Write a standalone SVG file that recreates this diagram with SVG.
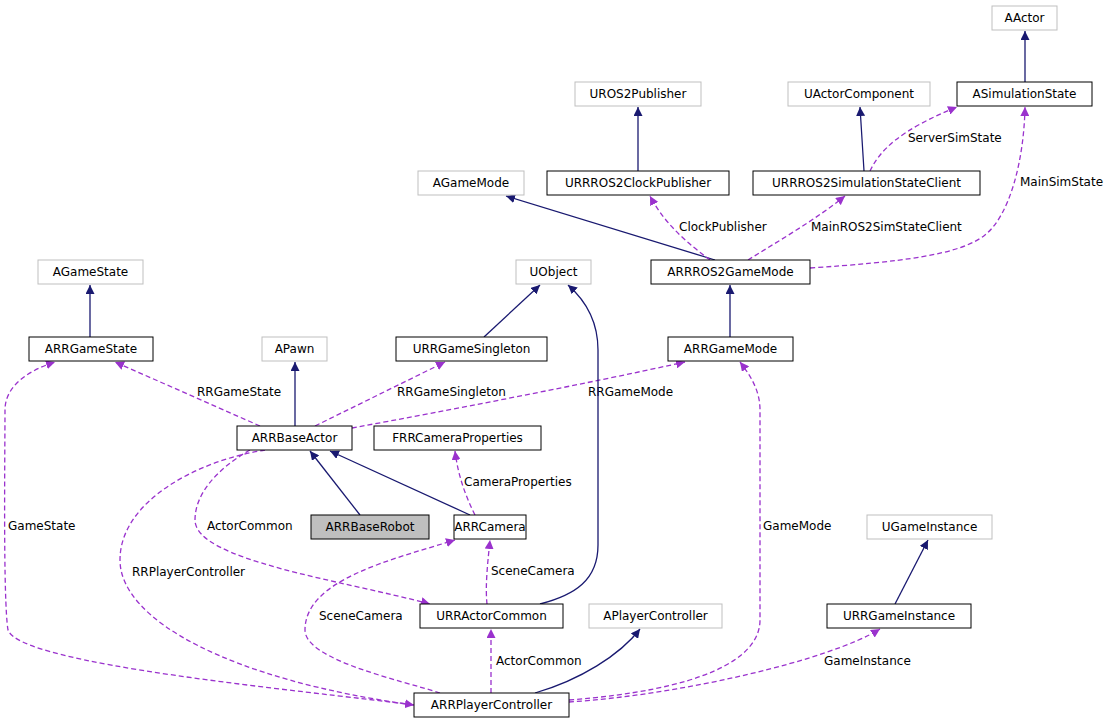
<svg xmlns="http://www.w3.org/2000/svg" width="1117" height="725" viewBox="0 0 1117 725">
<defs>
<style>
.n rect{fill:#fff;stroke:#000;stroke-width:1}
.g rect{stroke:#bfbfbf}
.n text{font-family:"DejaVu Sans",sans-serif;font-size:12px;text-anchor:middle}
.s{fill:none;stroke:#191970;stroke-width:1.3;marker-end:url(#as)}
.d{fill:none;stroke:#9a32cd;stroke-width:1.3;stroke-dasharray:5,3;marker-end:url(#ad)}
.l{font-family:"DejaVu Sans",sans-serif;font-size:12px}
</style>
<marker id="as" viewBox="0 0 10 10" refX="10" refY="5" markerWidth="9" markerHeight="9" markerUnits="userSpaceOnUse" orient="auto"><path d="M0,0L10,5L0,10z" fill="#191970"/></marker>
<marker id="ad" viewBox="0 0 10 10" refX="10" refY="5" markerWidth="9" markerHeight="9" markerUnits="userSpaceOnUse" orient="auto"><path d="M0,0L10,5L0,10z" fill="#9a32cd"/></marker>
</defs>
<rect width="1117" height="725" fill="#fff"/>
<g id="edges">
<path class="s" d="M1025,82V31"/>
<path class="s" d="M638,171V107"/>
<path class="s" d="M864,171L860,107"/>
<path class="d" d="M870,171C880,150 900,130 957,107"/>
<text class="l" x="908" y="142">ServerSimState</text>
<path class="s" d="M715,260L506,196"/>
<path class="d" d="M710,260C690,245 665,225 650,196"/>
<text class="l" x="679" y="231">ClockPublisher</text>
<path class="d" d="M748,260C780,240 815,220 845,196"/>
<text class="l" x="811" y="231">MainROS2SimStateClient</text>
<path class="d" d="M810,268C900,262 960,255 985,235C1010,215 1024,160 1025,107"/>
<text class="l" x="1020" y="186">MainSimState</text>
<path class="s" d="M90,337V285"/>
<path class="s" d="M484,337L540,285"/>
<path class="s" d="M730,337V285"/>
<path class="s" d="M295,426V362"/>
<path class="d" d="M260,426L115,362"/>
<text class="l" x="197" y="396">RRGameState</text>
<path class="d" d="M315,426L445,362"/>
<text class="l" x="397" y="396">RRGameSingleton</text>
<path class="d" d="M352,428C450,410 580,385 685,362"/>
<text class="l" x="588" y="396">RRGameMode</text>
<path class="s" d="M360,515L310,451"/>
<path class="s" d="M470,515L330,451"/>
<path class="d" d="M475,515C465,495 458,475 455,451"/>
<text class="l" x="464" y="486">CameraProperties</text>
<path class="s" d="M540,604C575,595 598,580 598,545V350C598,320 585,300 568,285"/>
<path class="d" d="M487,604C485,585 488,560 490,540"/>
<text class="l" x="491" y="575">SceneCamera</text>
<path class="d" d="M250,450C215,470 195,495 195,520C195,560 340,580 430,604"/>
<text class="l" x="207" y="530">ActorCommon</text>
<path class="d" d="M414,705C300,690 20,665 8,630C3,600 5,450 5,410C5,385 30,370 55,362"/>
<text class="l" x="8" y="530">GameState</text>
<path class="d" d="M265,450C200,460 120,500 120,560C120,620 230,680 414,705"/>
<text class="l" x="132" y="576">RRPlayerController</text>
<path class="d" d="M440,693C400,680 305,660 305,630C305,580 390,560 455,540"/>
<text class="l" x="319" y="620">SceneCamera</text>
<path class="d" d="M491,693V629"/>
<text class="l" x="496" y="665">ActorCommon</text>
<path class="s" d="M535,693C580,680 620,655 640,629"/>
<path class="d" d="M569,700C700,690 760,660 760,620V410C760,390 750,375 740,362"/>
<text class="l" x="763" y="530">GameMode</text>
<path class="d" d="M569,702C680,695 830,660 880,629"/>
<text class="l" x="824" y="665">GameInstance</text>
<path class="s" d="M895,604L928,540"/>
</g>
<g id="AActor" class="n g"><rect x="992" y="6" width="65" height="24"/><text x="1024.5" y="22">AActor</text></g>
<g id="ASimulationState" class="n"><rect x="957" y="82" width="135" height="24"/><text x="1024.5" y="98">ASimulationState</text></g>
<g id="UROS2Publisher" class="n g"><rect x="575" y="82" width="126" height="24"/><text x="638" y="98">UROS2Publisher</text></g>
<g id="UActorComponent" class="n g"><rect x="788" y="82" width="142" height="24"/><text x="859" y="98">UActorComponent</text></g>
<g id="AGameMode" class="n g"><rect x="418" y="171" width="106" height="24"/><text x="471" y="187">AGameMode</text></g>
<g id="URRROS2ClockPublisher" class="n"><rect x="547" y="171" width="182" height="24"/><text x="638" y="187">URRROS2ClockPublisher</text></g>
<g id="URRROS2SimulationStateClient" class="n"><rect x="753" y="171" width="227" height="24"/><text x="866.5" y="187">URRROS2SimulationStateClient</text></g>
<g id="AGameState" class="n g"><rect x="38" y="260" width="105" height="24"/><text x="90.5" y="276">AGameState</text></g>
<g id="UObject" class="n g"><rect x="516" y="260" width="75" height="24"/><text x="553.5" y="276">UObject</text></g>
<g id="ARRROS2GameMode" class="n"><rect x="651" y="260" width="159" height="24"/><text x="730.5" y="276">ARRROS2GameMode</text></g>
<g id="ARRGameState" class="n"><rect x="29" y="337" width="124" height="24"/><text x="91" y="353">ARRGameState</text></g>
<g id="APawn" class="n g"><rect x="262" y="337" width="65" height="24"/><text x="294.5" y="353">APawn</text></g>
<g id="URRGameSingleton" class="n"><rect x="396" y="337" width="151" height="24"/><text x="471.5" y="353">URRGameSingleton</text></g>
<g id="ARRGameMode" class="n"><rect x="668" y="337" width="125" height="24"/><text x="730.5" y="353">ARRGameMode</text></g>
<g id="ARRBaseActor" class="n"><rect x="237" y="426" width="115" height="24"/><text x="294.5" y="442">ARRBaseActor</text></g>
<g id="FRRCameraProperties" class="n"><rect x="374" y="426" width="167" height="24"/><text x="457.5" y="442">FRRCameraProperties</text></g>
<g id="ARRBaseRobot" class="n"><rect x="311" y="515" width="118" height="24" style="fill:#bfbfbf"/><text x="370" y="531">ARRBaseRobot</text></g>
<g id="ARRCamera" class="n"><rect x="454" y="515" width="72" height="24"/><text x="490" y="531">ARRCamera</text></g>
<g id="UGameInstance" class="n g"><rect x="867" y="515" width="125" height="24"/><text x="929.5" y="531">UGameInstance</text></g>
<g id="URRActorCommon" class="n"><rect x="420" y="604" width="143" height="24"/><text x="491.5" y="620">URRActorCommon</text></g>
<g id="APlayerController" class="n g"><rect x="589" y="604" width="133" height="24"/><text x="655.5" y="620">APlayerController</text></g>
<g id="URRGameInstance" class="n"><rect x="827" y="604" width="144" height="24"/><text x="899" y="620">URRGameInstance</text></g>
<g id="ARRPlayerController" class="n"><rect x="414" y="693" width="155" height="24"/><text x="491.5" y="709">ARRPlayerController</text></g>
</svg>
